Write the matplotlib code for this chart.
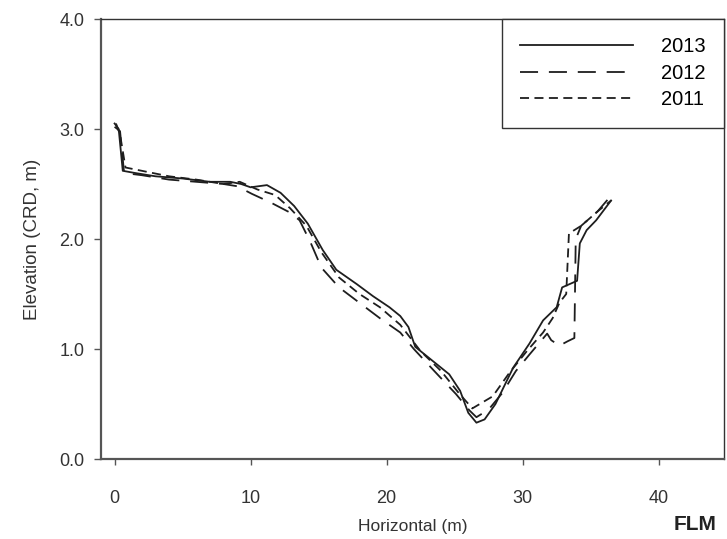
import matplotlib
matplotlib.use("Agg")
import matplotlib.pyplot as plt

# ---- data ----
x2013 = [0.0, 0.3, 0.6, 1.5, 3, 5, 7, 8.5, 9.3, 10, 11.2, 12.2, 13.2, 14.2, 15.3, 16.3,
         17.8, 19, 20.2, 21, 21.6, 22.1, 23.2, 24.6, 25.4, 26.0, 26.6, 27.2, 28.0, 29.3,
         30.5, 31.5, 32.5, 32.9, 34.0, 34.2, 34.7, 35.4, 36.5]
y2013 = [3.05, 3.0, 2.62, 2.6, 2.57, 2.55, 2.52, 2.52, 2.5, 2.47, 2.49, 2.42, 2.3, 2.14,
         1.9, 1.72, 1.59, 1.48, 1.38, 1.3, 1.2, 1.02, 0.91, 0.77, 0.62, 0.42, 0.33, 0.36,
         0.5, 0.83, 1.05, 1.26, 1.38, 1.56, 1.62, 1.96, 2.08, 2.17, 2.35]

x2012 = [0.0, 0.4, 0.7, 2, 4, 6, 8, 9, 10.1, 11.5, 12.9, 13.6, 14.4, 15.2, 16.5, 18,
         19.5, 21, 22, 23.5, 25.1, 26.1, 26.6, 27.5, 28.5, 29.5, 30.5, 31.8, 32.1, 32.7,
         33.3, 33.8, 33.9, 34.3, 35.5, 36.4]
y2012 = [3.02, 2.98, 2.6, 2.58, 2.54, 2.52, 2.5, 2.48, 2.41, 2.33, 2.24, 2.17, 1.97, 1.74,
         1.56, 1.42, 1.28, 1.15, 1.0, 0.8, 0.59, 0.44, 0.38, 0.45, 0.6, 0.8, 0.95, 1.14,
         1.08, 1.03, 1.07, 1.1, 2.0, 2.12, 2.25, 2.38]

x2011 = [0.1, 0.4, 0.8, 2, 4, 6, 8, 9.2, 10.5, 11.8, 12.9, 14.1, 15.2, 16.5, 18, 19.5,
         21, 22.5, 24, 25.3, 26.3, 27.8, 29, 30.3, 31.5, 32.2, 32.7, 33.2, 33.4, 34.3,
         35.5, 36.5]
y2011 = [3.05, 2.95, 2.65, 2.62, 2.57, 2.54, 2.5, 2.52, 2.45, 2.4, 2.28, 2.12, 1.88, 1.65,
         1.5, 1.38, 1.22, 0.98, 0.8, 0.6, 0.46, 0.57, 0.78, 0.98, 1.15, 1.28, 1.42, 1.5,
         2.05, 2.12, 2.25, 2.35]

series = [("2013", x2013, y2013, "-"),
          ("2012", x2012, y2012, (0, (10, 6))),
          ("2011", x2011, y2011, (0, (5, 3)))]

xticks = [0, 10, 20, 30, 40]
yticks = [0.0, 1.0, 2.0, 3.0, 4.0]
ytick_labels = ["0.0", "1.0", "2.0", "3.0", "4.0"]

# ---- figure ----
plt.rcParams['font.family'] = ['Liberation Sans', 'DejaVu Sans']
W, H = 727, 539
fig = plt.figure(figsize=(W / 100, H / 100), dpi=100)
left, right, top, bottom = 101, 724, 19, 459
ax = fig.add_axes([left / W, 1 - bottom / H, (right - left) / W, (bottom - top) / H])

for label, xs, ys, ls in series:
    ax.plot(xs, ys, linestyle=ls, color="#1e1e1e", linewidth=1.3, label=label)

ax.set_xlim(-1, 44.8)
ax.set_ylim(0, 4)
ax.set_xticks(xticks)
ax.set_xticklabels([str(t) for t in xticks])
ax.set_yticks(yticks)
ax.set_yticklabels(ytick_labels)

for s in ["left", "bottom"]:
    ax.spines[s].set_color("#555555")
    ax.spines[s].set_linewidth(1.6)
for s in ["top", "right"]:
    ax.spines[s].set_color("#333333")
    ax.spines[s].set_linewidth(1.0)

ax.tick_params(axis="x", direction="out", length=4, width=1, color="#555555",
               labelsize=13, labelcolor="#333333", pad=18)
ax.tick_params(axis="y", direction="out", length=5, width=1, color="#555555",
               labelsize=13, labelcolor="#333333", pad=7)

ax.set_xlabel("Horizontal (m)", fontsize=12.5, color="#333333", labelpad=9)
ax.set_ylabel("Elevation (CRD, m)", fontsize=13.5, color="#333333", labelpad=13)

fig.text(695 / W, 1 - 524 / H, "FLM", fontsize=15, fontweight="bold",
         color="#222222", ha="center", va="center")

leg = ax.legend(loc="upper right", bbox_to_anchor=(1, 1), borderaxespad=0,
                fancybox=False, edgecolor="#333333", framealpha=1, fontsize=14.5,
                handlelength=5.6, handletextpad=1.4, borderpad=0.9, labelspacing=0.38)
leg.get_frame().set_linewidth(1.0)

fig.savefig("out.png", dpi=100)
